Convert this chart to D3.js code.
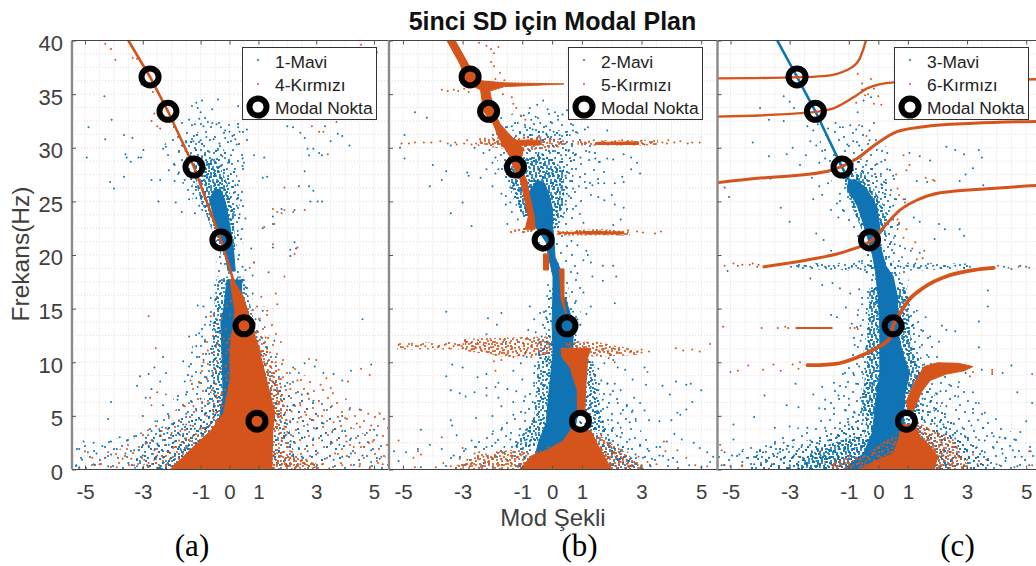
<!DOCTYPE html>
<html><head><meta charset="utf-8">
<script src="https://cdn.jsdelivr.net/npm/d3@7"></script>
<style>html,body{margin:0;padding:0;background:#fff;overflow:hidden}</style>
</head><body><svg id="c" width="1036" height="566"></svg>
<script>
const titleText="5inci SD için Modal Plan", xLabel="Mod Şekli", yLabel="Frekans(Hz)";
const xTicks=[-5,-3,-1,0,1,3,5], yTicks=[0,5,10,15,20,25,30,35,40];
const xMinor=[-5,-4.5,-4,-3.5,-3,-2.5,-2,-1.5,-1,-0.5,0,0.5,1,1.5,2,2.5,3,3.5,4,4.5,5];
const yMinor=[1.25,2.5,3.75,5,6.25,7.5,8.75,10,11.25,12.5,13.75,15,16.25,17.5,18.75,20,21.25,22.5,23.75,25,26.25,27.5,28.75,30,31.25,32.5,33.75,35,36.25,37.5,38.75];
const modalShape=[-2.75,-2.13,-1.23,-0.3,0.5,0.95];
const modalFreq=[36.6,33.4,28.2,21.4,13.4,4.5];
const legendA=["1-Mavi","4-Kırmızı","Modal Nokta"], legendB=["2-Mavi","5-Kırmızı","Modal Nokta"], legendC=["3-Mavi","6-Kırmızı","Modal Nokta"];
const captions=["(a)","(b)","(c)"];

// speckle tiles that give the dense point clouds their grain
const tileA=[[3,5],[11,2],[20,7],[31,3],[7,14],[16,13],[26,16],[34,12],[2,22],[12,24],[21,21],[30,26],[6,31],[17,33],[25,29],[35,35]];
const tileB=[[2,3],[8,1],[15,4],[20,8],[5,8],[11,10],[17,12],[1,13],[7,15],[14,17],[21,15],[3,20],[10,21],[18,20],[22,22],[12,6]];
const tileC=[[1,2],[6,1],[10,3],[3,6],[8,7],[12,8],[1,10],[5,11],[10,12],[6,4]];

// ---- panel (a)
const aBlueCoreU=[[-0.7,25.2],[-0.5,26.2],[-0.3,26],[-0.15,25],[0.02,22.6],[0.13,20.7],[0.2,18.5],[-0.05,18.5],[-0.2,20.7],[-0.45,22.6]];
const aBlueCoreL=[[-0.09,17.67],[0.42,17.67],[0.4,10],[0.4,4],[-0.4,4],[-0.22,6.8],[-0.25,9.9],[-0.3,13.7],[-0.2,15]];
const aBlueSparse=[[-1.9,32.5],[-0.9,33],[0.5,32.5],[0.7,31],[0.6,28.5],[0.5,24],[0.4,19],[0.9,15],[1.3,13],[1.7,10.5],[2.4,8],[3.2,6],[4.2,4],[5.3,2.3],[5.5,0],[-5.45,0],[-5.45,2.2],[-4,2.8],[-3,3.5],[-2.2,5.5],[-1.6,8],[-1.25,12],[-0.9,15],[-0.4,18],[-0.5,21],[-1,24],[-1.7,27],[-2.3,30]];
const aBlueMidU=[[-1.55,31],[-1.1,31.5],[-0.6,30],[-0.25,30],[0.2,28.5],[0.35,26],[0.35,23],[0.2,20],[-0.3,20],[-0.65,23],[-1.2,26],[-1.55,28.5]];
const aBlueMidL=[[-0.5,16],[0.4,16],[1.2,10],[1.9,6],[2.2,2],[2.3,0],[-3.3,0],[-2.3,2],[-1.6,3.5],[-0.9,6],[-0.7,10]];
const aBlueThickU=[[-1.3,28.5],[-0.45,29],[-0.05,26.5],[0.15,24],[0.2,20],[-0.3,20],[-0.7,23],[-1.05,25.5]];
const aBlueThickL=[[-0.45,18],[0.5,18],[1,12],[1.5,6],[1.5,0],[-2.6,0],[-1.6,2],[-1,3.5],[-0.6,5.5],[-0.6,13]];
const aRedSparse=[[0,16],[1.5,15],[2,10],[3,8],[4.5,6],[5.5,5],[5.5,0],[-5.45,0],[-4,1.5],[-3,3.5],[-2,5],[-1.3,8],[-0.8,12],[-0.3,15]];
const aRedMid=[[0.5,15],[1.1,13],[1.7,9],[2,6],[2,3],[2.4,1.2],[3.3,0],[-3.3,0],[-2.3,1.5],[-1.5,3],[-0.7,5],[-0.2,8],[-0.1,12]];
const aRedThick=[[1.4,1.7],[2.3,1.3],[3,0.6],[2.9,0],[1.4,0]];
const aRedThickEdge=[[1.0,12],[1.4,10],[1.9,6.5],[1.7,3.5],[1.2,5]];
const aBlueOverL=[[-3,3],[-2,4.5],[-1,5.5],[-0.5,6],[-0.6,4],[-1.3,2.2],[-2.1,0.1],[-3.4,0.1]];
const aBlueOverR=[[1.5,8],[2.5,7],[3.5,5],[4,2],[4,0.5],[1.6,1.5]];
const aRedMass=[[0.02,17.67],[0.13,17.67],[0.48,16.1],[0.65,14.6],[0.82,13],[1,11.45],[1.28,8.35],[1.57,5.25],[1.5,3.7],[1.46,0],[-2.06,0],[-1.25,2.1],[-0.62,3.7],[-0.21,5.25],[0.02,8.35],[0.02,11.45],[0.19,14.6]];
const aRedLine=[[-3.5,40],[-2.75,36.6],[-2.13,33.4],[-1.23,28.2],[-0.3,21.4],[0.15,17.5]];
const aBlueDots=[[-4.88,31.9],[-4.94,29.1],[-4.33,34.8],[-4.08,32.6],[-4.3,30.8],[-3.65,31.2],[-3.36,30.9],[-3.6,29.4],[-3.56,29.1],[-3.42,28.7],[-3.15,29.1],[-3.06,29.1],[-3.65,27.3],[-4.13,26.8],[-4,26.2],[-2.98,29.8],[-2.46,25],[-1.86,24.9],[-1.65,24],[-0.95,34.4],[-0.4,34.5],[-1.15,34.2],[-1.1,33.7],[-1,33.3],[-0.6,33.6],[0.3,33.9],[-1.3,33.9],[-1.4,32.6],[-1.2,32.2],[-1.05,32.7],[-0.9,32],[-0.75,32.4],[-0.6,32.3],[-0.45,32.2],[-0.3,31.9],[-0.15,31.6],[0,31.5],[0.3,31.9],[0.35,31.5],[0.6,31.7],[0.1,31.1],[0.2,30.8],[0.25,30.3],[0.05,30.6],[-0.15,30.9],[-0.35,30.4],[-0.55,30.8],[-0.8,31],[-1,30.7],[-1.25,30.6],[-1.5,30.5],[-1.65,30.2],[-2.2,30.1],[-2.3,29.9],[-1.75,29.6],[-1.35,29.3],[-0.95,29.2],[-0.7,29.6],[-0.4,29.8],[-0.25,29.2],[0.05,29.3],[0.45,29],[0.5,28.6],[0.45,28.3],[-0.05,28.6],[-0.3,28.3],[-0.6,28.9],[-1.5,28.3],[-1.9,28.4],[-2.1,27.9],[-1.75,27.7],[-1.45,27.4],[-1.9,26.9],[-2.4,27],[-2.7,27],[-1.55,27],[-1.3,26.4],[-1.25,25.7],[-1.15,25.3],[-1.4,25.2],[-1.05,24.6],[-0.95,24.2],[-1.2,23.9],[-0.7,23.8],[0.2,26.5],[0.15,25.8],[0.3,25.6],[0.4,25.1],[0.25,24.6],[0.15,24],[0.35,23.8],[0.1,23.4],[0.55,23.4],[1.3,27.3],[1.15,27.2],[0.85,29.3],[1.2,29.1],[1.95,34.4],[2,32],[2.2,31.9],[2.45,31.4],[2.75,29.3],[2.6,30.9],[2.7,29.9],[2.9,29.9],[3.1,29.5],[3.3,32],[3.5,30.6],[3.75,31.3],[3.9,31.1],[4.15,30.2],[3.2,29.3],[2.6,27.8],[2.4,26.4],[2.75,26.4],[2.9,26],[2.8,25],[3.05,25],[3.2,25],[2.25,24.2],[1.8,24.3],[1.5,23.6],[1.5,22.9],[1.15,22.5],[2.25,21.2],[2.1,20.5],[2.3,20.6],[1.5,20.7],[0.75,20.6],[0.4,21.5],[2.1,19.9],[0.85,19.3],[1.35,18.4],[0.8,18.1],[0.55,18.6],[0.45,18.9],[0.3,19.6],[-0.1,19.6],[-0.3,19.2],[0.55,17],[0.8,16.4],[-0.65,16],[-1.1,15.3],[-0.9,15.2],[1.15,14.8],[0.9,14],[1.05,13.9],[0.85,13.6],[-0.65,13.8],[-0.85,13.5],[-0.5,13],[-1.05,12.7],[-0.95,12.4],[-1.4,12.4],[-1.15,11.5],[-0.85,11.9],[-1.3,10.9],[-1.05,10.5],[-0.9,10.2],[-0.7,10.8],[-0.6,11.5],[-1.4,9.6],[-1.6,10.1],[-2.3,10.5],[-2.6,9.5],[-2.8,8.9],[-3.1,8.7],[-3.2,7.8],[-2.7,7.5],[-2.4,8.2],[-2.2,9],[-1.55,8.2],[-1.3,8.7],[-1,9],[-0.8,8.6],[-0.6,9.2],[-0.5,8],[-0.75,7.6],[-1.1,7.7],[-1.5,7],[-1.8,6.5],[-1.3,6.3],[-1,6.6],[-0.7,6.2],[-0.55,5.4],[-0.85,5.1],[-1.15,5.5],[-1.5,5.2],[-2.1,5],[-2.5,4.5],[-3,5],[-4.2,4.7],[-4.1,6.3],[-2.9,6.7],[-2.3,6],[-1.95,4.2],[-1.6,4.2],[-1.35,4.1],[-1.2,3.8],[-1,3.9],[-0.9,3.3],[-1.6,3.3],[-1.85,3.2],[-2.15,3.4],[-2.4,3.2],[-2.7,3.6],[-3.3,3.1],[-3.55,2.7],[-3.8,3],[-4.1,2.6],[-4.4,2.2],[-4.7,2.5],[-5.05,2.6],[-5.2,1.9],[-4.9,1.6],[-4.6,1.5],[-4.3,1.1],[-4.1,1.4],[-3.9,1.9],[-3.6,1.5],[-3.3,1.8],[-3,1.3],[-2.8,2.2],[-2.5,2.4],[-2.3,1.7],[-2.1,2.3],[-1.9,2.6],[-1.7,1.9],[-1.5,2.2],[-2.6,0.9],[-2.85,0.4],[-3.2,0.3],[-3.1,0.8],[-4.2,0.3],[-5.2,0.2],[-5.3,0.4],[-5.1,0.9],[-4.7,0.5],[-3.5,0.6],[-2.4,0.3],[-2.2,0.8],[1.6,10.5],[1.3,9.9],[1.55,9],[1.2,10.8],[1.3,11.4],[1.55,12],[1.05,12.1],[1.1,11],[1.4,8.7],[1.75,8],[1.65,7.4],[2,8.1],[2.2,9.5],[2.4,9],[2.6,9.9],[2.95,9.6],[3.25,9],[3.6,8.9],[3.9,8.3],[4.2,9.2],[4.9,9.8],[4.6,14],[2.5,7],[2.2,6],[2.9,6.4],[3.2,6.1],[3.5,5.8],[3.9,5],[4.15,5.6],[4.5,5.6],[5.1,3.2],[5,3.7],[4.75,3.4],[2,5.9],[1.9,5.1],[1.75,4.6],[2.1,4.4],[2.4,4.8],[2.7,4.2],[3,3.8],[3.25,4.3],[3.55,3.5],[3.9,3.6],[4.2,2.9],[4.5,2.5],[4.9,1.8],[4.6,1.3],[4.2,1.5],[3.8,2.3],[3.5,2.4],[3.2,2.7],[2.9,2.9],[2.6,3],[2.4,3.4],[2.2,3.1],[1.9,3.4],[1.8,2.7],[2.1,2.3],[2.4,2],[2.7,1.7],[3,1.4],[3.3,1],[3.6,0.9],[2.5,1.2],[2.2,1.4],[1.7,1.6],[3.9,1.2],[4.9,0.7],[5.2,1]];
const aRedDots=[[-4.3,39.7],[-4.1,39.2],[-3.95,38.2],[-3.35,38.4],[-3.2,38.3],[-3.05,35.9],[-2.65,35.2],[-2.6,33.2],[-2.7,32.5],[-2.5,32],[-2.4,31.8],[4.55,39.6],[5.1,38.9],[2.85,32],[3.1,31.5],[3.25,31.5],[3.7,32.4],[3.4,29.4],[1.9,26.3],[1.5,24.3],[1.65,24],[1.8,23.9],[1.9,24.2],[2.2,24],[2.6,24.2],[1.55,22.9],[1.2,22.6],[1.5,21],[2.35,20.7],[2.25,20.1],[0.85,19.3],[0.7,18.8],[1.9,18],[1.65,15.4],[1.6,16.4],[1.1,16.1],[1.3,14.8],[0.95,15.2],[-0.3,14.5],[-0.55,14.4],[-0.65,14.3],[-2.8,14.3],[-2.55,11.3],[-0.2,12.2],[-0.4,11.7],[-0.75,11.1],[-0.9,10],[-0.5,9.4],[-1.35,8.3],[-1.05,8.1],[-0.65,7.2],[-0.45,6.9],[-0.95,6.3],[-1.25,5.9],[-1.55,5.9],[-2.2,7],[-2.5,7.2],[-2.75,6.7],[-2.7,6],[-2.1,4.8],[-1.75,4.6],[-1.5,4.2],[-1.4,3.5],[-1.7,3.6],[-2,3.4],[-2.35,3.6],[-2.7,2.7],[-2.9,2.4],[-3.15,1.8],[-3.55,1.9],[-3.7,1],[-3.4,1],[-3.3,0.4],[-2.95,0.9],[-2.6,1.8],[-2.5,1.3],[-2.3,1.1],[-2.15,1.7],[-1.95,2],[-1.75,2.7],[-1.55,2.9],[-2.8,0.6],[-4.5,0.5],[-4.2,1.6],[-4.75,1.1],[-5,1.7],[-5.2,0.1],[-3.9,0.2],[1.7,9.3],[1.85,8.6],[2.1,7.5],[1.6,10],[1.4,10.9],[1.25,12.3],[1.85,10.2],[2.35,8.3],[2.75,10.3],[3,10.2],[3.35,8.5],[4.1,8.2],[4.55,9.4],[4.85,8.8],[3.5,7.6],[3.15,7.9],[2.7,7.1],[2.45,6],[2.15,5.4],[1.9,4],[1.75,3.4],[2,3.5],[2.35,4.4],[2.65,5.1],[2.9,4.6],[3.2,5],[3.6,4.4],[4,4.8],[4.4,4.3],[4.8,5.2],[4.9,4.1],[5.2,5.2],[1.7,2.4],[1.6,1.8],[1.75,1.2],[1.9,0.7],[2.1,1.1],[2,0.4],[2.3,0.8],[2.45,0.5],[2.65,0.9],[2.85,0.6],[2.95,0.2],[3.2,0.5],[3.45,0.1],[2.1,1.7],[1.65,0.6],[3.65,1.5],[3.9,0.4],[4.5,0.3],[4.85,0.1],[5.1,0.8],[5.25,1.2],[5.3,0.5],[4.3,2.1],[4.05,2.6],[4.65,2.1],[4.95,2.6]];

// ---- panel (b)
const bBlueSparse=[[-2.1,32.5],[-1,33.5],[0.7,33],[1,31],[1.6,29.5],[2,28],[1.2,26],[1,24],[0.6,22],[0.9,19],[1,16],[0.9,13],[1.3,10],[1.9,8],[2.6,6],[3,3.5],[3.8,2],[4.5,0],[-4,0],[-3,2],[-2,3.6],[-1.2,5],[-0.8,8],[-0.5,12],[-0.35,15],[-0.1,18],[-0.4,21],[-1.1,23.5],[-1.6,27],[-2,30]];
const bBlueMidU=[[-1.7,31.5],[-0.6,32],[0.6,31.5],[0.8,29],[0.7,27],[0.6,25],[0.3,22.5],[-0.6,22.5],[-1.2,24.5],[-1.6,27.5]];
const bBlueMidL=[[-0.15,17],[0.55,17],[0.7,13],[0.95,12],[1.5,9],[1.7,5],[2.7,1],[3,0],[-1.3,0],[-1,3],[-0.5,5],[-0.35,9],[-0.2,12],[-0.25,15]];
const bBlueThickU=[[-1.5,28.5],[-0.3,29.5],[0.4,28],[0.4,25],[0.15,22.5],[-0.6,22.5],[-1.1,24.2],[-1.4,26.5]];
const bBlueThickR=[[1.1,2.7],[2,2.4],[2.9,0.6],[2.9,0],[1.1,0]];
const bBlueThickLL=[[-0.45,12],[0.05,12],[0.05,4],[-0.7,2],[-1.3,2],[-0.6,5]];
const bBlueThickLR=[[0.95,10.5],[1.4,10],[1.55,6],[1.8,3.6],[1.1,3.6]];
const bBlueMass=[[-0.75,26],[-0.5,27],[-0.25,26.7],[-0.1,25.6],[0.02,24.2],[0,22.8],[0.05,22],[0.1,19.8],[0.3,18.5],[0.37,16],[0.45,16],[0.7,13.6],[0.7,11],[0.98,7.4],[0.8,4.3],[0.4,2.6],[0.1,0.9],[-0.6,0.9],[-0.45,2.6],[-0.2,4.3],[-0.1,7.4],[0.03,10.9],[0,13.6],[0.03,16.7],[0.03,18],[-0.13,20],[-0.2,21.2],[-0.5,22.4],[-0.9,24.2]];
const bRedRidge=[[-3.25,40],[-2.81,37.8],[-2.55,36.5],[-2.36,36.2],[-2.1,35.4],[-1.95,33.4],[-1.74,32.2],[-1.35,31],[-0.96,29.9],[-1.02,29.1],[-1.07,28.2],[-0.85,27],[-0.74,25.4],[-0.6,23.6],[-0.57,22.4],[-0.9,22.4],[-0.8,23.6],[-0.94,25.4],[-1.07,27],[-1.3,28.2],[-1.4,29.1],[-1.58,29.9],[-1.8,31],[-1.97,32.2],[-2.3,33.4],[-2.4,35.4],[-2.84,36],[-3.09,37.8],[-3.53,40]];
const bRedLower=[[0.3,11.3],[1.3,11.3],[1.2,10.5],[1.12,7.4],[1.1,5.5],[0.85,5.5],[0.84,7.4],[0.6,9.5],[0.33,10.5]];
const bRedBase=[[0.68,3.9],[1.3,3.6],[1.55,2.2],[2.0,0],[-1.1,0],[-0.7,1.2],[-0.1,1.9],[0.35,2.6]];
const bRedBaseMid=[[0.2,2.5],[1.4,3.6],[2.4,1.7],[3.2,0],[-3.5,0],[-2.4,1.4],[-1.2,1.9],[-0.7,1.5]];
const bRedSpike36=[[-2.4,36.25],[-1.6,36.05],[0.4,35.95],[-1.6,35.7],[-2.2,35.2]];
const bRedBand30=[[-2.5,30.9],[-0.5,31.1],[0.4,30.7],[0.4,30.1],[-1,29.7],[-2.5,30.2]];
const bRedCore30=[[-1.7,30.7],[-0.4,30.7],[-0.4,30.25],[-1.7,30.2]];
const bRedRight30=[[0.85,30.65],[3.55,30.75],[3.55,30.2],[0.85,30.2]];
const bRedCoreR30=[[1.5,30.5],[2.9,30.55],[2.9,30.3],[1.5,30.3]];
const bRedRight22=[[0.15,22.2],[1.6,22.45],[2.6,22.2],[2.6,21.8],[1.6,21.85],[0.15,21.8]];
const bRedCoreR22=[[0.2,22.05],[1.2,22.2],[2.4,22.15],[2.4,21.95],[1.2,21.95]];
const bRedLeft22=[[-1.45,22.3],[-0.55,22.7],[-0.55,22.1],[-1.45,22]];
const bRedStub=[[-0.29,20.1],[-0.12,20.1],[-0.12,18.6],[-0.29,18.6]];
const bRedStub2=[[0.25,18.7],[0.4,18.7],[0.4,15.8],[0.47,14.5],[0.3,15.8]];
const bRedBandL11=[[-3.0,12.2],[-0.05,12.4],[-0.05,10.7],[-1.5,10.5],[-3,11.1]];
const bRedBandLL11=[[-5.2,11.8],[-3,11.9],[-3,11.2],[-5.2,11.2]];
const bRedBandR11=[[0.4,11.9],[1.5,11.9],[2.9,11.1],[2.9,10.7],[1.5,10.5],[0.7,10.8]];
const bBlueDots=[[-4.6,33.3],[-4.2,32.8],[-4.95,31.2],[-5.1,30],[-4.95,29],[-4,28.4],[-3.55,27.8],[-3.4,30.2],[-3.7,27],[-2.85,27.7],[-2.8,27.4],[-4.1,26.4],[-3,24.9],[-3.4,23.9],[-2.4,27.2],[-2.2,28],[-2.3,29.5],[-2.6,30],[-2.1,29.8],[-1.9,29.1],[-2,28.6],[-1.8,28],[-1.6,28.3],[-1.9,27.6],[-2,26.4],[-1.55,25.5],[-1.55,24.7],[-1.7,25.7],[-1.4,26.3],[-1.4,24.9],[-1.5,22.9],[-1.35,24],[-1.15,23.3],[-1.1,24.7],[-2.7,22.7],[-1.9,32.7],[-1.7,32],[-1.85,31.3],[-2.05,32.4],[-1.55,31.9],[-1.35,32],[-1.15,32.3],[-0.95,33],[-0.75,33.7],[-0.5,34],[-0.3,34.4],[-0.15,33.6],[-0.7,32.6],[-0.55,32.9],[-0.4,32.3],[-0.2,32],[-0.05,32.4],[0.1,33.3],[0.2,32.6],[0.35,33.1],[0.5,33.5],[0.65,32.7],[0.7,32.1],[-0.9,31.9],[-0.65,31.7],[-0.45,31.5],[-0.2,31.3],[0.05,31.5],[0.25,31.2],[0.5,31.5],[0.7,31.6],[0.85,31.4],[1.1,31.7],[1.2,31.9],[1.85,31.6],[1.35,33.5],[-0.4,30.9],[-0.05,30.8],[-0.45,29.5],[0.1,29.7],[0.3,29.3],[0.55,29.7],[0.8,29.4],[0.95,29.1],[1.25,29.6],[1.45,29],[1.6,28.7],[1.85,29],[2.05,28.9],[2.4,29.4],[2.65,29.1],[2.85,28.6],[2.95,27.6],[2.65,28],[2.35,27.3],[2.4,26.8],[2.1,26.7],[1.75,26.7],[1.55,26.7],[1.35,26.5],[1.1,26.8],[0.9,26.4],[0.7,26.2],[0.3,27.8],[0.45,27.4],[0.15,26.8],[0.3,26.3],[0.5,25.7],[0.25,25.2],[0.45,24.7],[0.3,24.3],[0.15,24],[0.05,23.4],[0.7,24.3],[1.3,25.6],[1.55,25.4],[1.75,25.1],[2,25.6],[2.1,24.7],[2.4,24.4],[2.3,23.3],[2.05,22.8],[1.05,23],[0.65,21.3],[0.85,20.9],[1.15,20.4],[1.2,20],[1.05,19.5],[0.85,18.3],[1.35,18],[1.3,19.3],[1.7,19],[1.7,17.6],[2.05,19],[2.15,18],[2.1,15.5],[1.05,16.5],[1.3,15.2],[0.8,15.7],[1.15,14.5],[0.95,13.5],[0.85,14],[0.7,14.7],[-3.55,14.7],[-2.15,14.1],[-1.85,13.5],[-1.7,14.6],[-2.2,12.6],[-1.55,11.7],[-0.75,15.2],[-0.4,14.6],[-0.2,14.2],[-0.6,14],[-0.8,13],[-0.55,12.8],[-0.25,13.2],[-0.35,12.4],[-0.15,11.9],[-0.85,10.5],[-0.95,10.6],[-1.05,9.9],[-0.4,10.4],[-0.2,10.1],[-0.1,9.9],[-1.3,9.2],[-1,8.4],[-0.6,9],[-0.3,9.1],[-0.15,8.8],[-0.35,8.1],[-0.6,7.8],[-1.8,8.1],[-2.2,8.9],[-3,9.5],[-3.35,9.8],[-3.55,8.7],[-2.5,8.6],[-2.2,7.6],[-2.6,7.2],[-2.2,6.9],[-2.9,6.8],[-3.4,7.4],[-3.1,7.1],[-1.9,7.7],[-1.5,7.5],[-1.2,7.3],[-1.8,6.7],[-1.3,6.3],[-0.9,6.8],[-0.65,6.3],[-0.35,6.6],[-0.55,5.8],[-0.9,5.3],[-1.3,5.1],[-1.7,5.9],[-2,5],[-2.55,4.8],[-3.4,4.6],[-3.35,4.1],[-4.4,3.7],[-3.2,3.2],[-2.7,2.7],[-2,3.3],[-1.7,3.7],[-1.4,2.8],[-1.1,3.2],[-0.8,3.6],[-0.65,4.5],[-0.55,3.4],[-0.85,2.8],[-1.2,2.2],[-1.6,2.1],[-1.9,2.5],[-2.2,2.1],[-2.55,2.1],[-2.9,1.9],[-3.3,1.3],[-3.7,1.9],[-4.1,2.3],[-4.5,1.9],[-4.9,1.6],[-5.3,1.7],[-5.15,0.8],[-4.4,0.2],[-2.3,0.6],[-1.9,1.3],[-1.6,1.6],[-1.3,1.6],[1.75,9.9],[1.55,9.4],[1.4,8.9],[1.2,10.2],[1.35,10],[1.65,8.3],[1.85,8],[1.55,7.4],[1.3,7.7],[1.15,8.6],[2.05,10.2],[2.2,9.5],[2.45,9.3],[2.7,8.4],[2.1,8],[2.3,7.4],[1.95,7],[1.7,6.5],[1.4,6.7],[1.25,5.7],[1.55,5.4],[1.85,5.8],[2.2,6.2],[2.5,5.9],[2.75,6.7],[2.95,6.2],[3.1,5.5],[2.7,5.5],[2.3,5.2],[2,4.6],[1.7,4.5],[1.4,4.8],[1.45,3.9],[1.7,3.6],[2,3.7],[2.3,3.9],[2.6,4.4],[2.8,4.7],[3.25,4.6],[3.6,4.5],[4,4.6],[4.2,5.3],[4.3,5.1],[4.5,5.6],[4.5,7.9],[4.7,6.3],[5,7.4],[3.15,7.9],[3.7,7.8],[3.95,7],[3.1,9.5],[4.15,8.2],[4.65,8],[2.3,3],[2.6,2.8],[2.95,2.3],[3.2,1.9],[3.5,2.1],[3.85,2.6],[4.1,3.3],[4.35,2.8],[4.75,2.5],[4.95,2],[5.2,1.6],[1.9,2.8],[1.7,2.2],[2,2],[2.3,1.7],[2.55,1.9],[2.8,1.4],[3.05,1.1],[3.35,1],[3.6,1.3],[3.9,0.9],[4.2,0.7],[4.6,0.4],[2.2,1],[2.5,0.9],[2.75,0.7],[3,0.4],[3.3,0.3],[5.3,0.7],[5.4,1.2],[5,0.2]];
const bRedDots=[[-2.45,39.8],[-2.2,39.5],[-2.05,39.2],[-1.95,38.8],[-1.8,39.4],[-2.05,38],[-1.95,37.6],[-1.75,37],[-1.9,36.4],[-1.6,36.3],[-3.7,35.4],[-3.5,35.3],[-3.3,35.4],[-3.15,35.3],[-2.95,35.5],[-2.8,35.2],[-1.65,35],[-1.35,34.7],[-1.3,34.1],[-1.2,33.7],[-1.05,33],[-0.9,32.6],[-5.05,30.4],[-4.8,30.4],[-4.6,30.5],[-4.3,30.5],[-4.05,30.5],[-3.75,30.6],[-3.5,30.4],[-3.25,30.5],[-3.2,30.3],[-2.95,30.4],[-2.85,30.7],[-2.7,30.3],[-2.55,30.4],[-2.4,30.6],[-2.1,30.4],[-1.95,30.7],[-1.8,30.5],[0.45,30.4],[0.7,30.6],[1,30.4],[1.1,30.5],[3.7,30.5],[3.85,30.4],[3.9,30.7],[4.1,30.5],[4.3,30.6],[4.55,30.4],[4.7,30.5],[4.95,30.5],[1.4,30.7],[2.35,30.7],[3.1,30.3],[0.2,22.2],[2.55,22.3],[2.85,22.2],[3.05,22.1],[3.45,22],[3.65,22.2],[-5.15,11.6],[-5,11.4],[-4.85,11.5],[-4.7,11.6],[-4.5,11.5],[-4.25,11.5],[-4,11.4],[-3.8,11.5],[-3.6,11.6],[-3.45,11.3],[-3.3,11.5],[-3.1,11.6],[-2.9,11.7],[-2.7,11.2],[-2.5,11.8],[-2.3,11.6],[-2.2,11],[-2.05,11.4],[-1.9,10.7],[-1.8,11.5],[-1.65,11.1],[-1.5,10.8],[-1.3,10.5],[-1.1,10.7],[-0.9,10.8],[-0.7,10.5],[-2.4,11.3],[-2.65,11.5],[-3,11.3],[1.5,11.2],[1.7,11.1],[2.05,11.3],[2.25,11.2],[2.65,11],[3,10.9],[3,11.2],[4.15,11.3],[4.4,11.1],[4.7,11.2],[4.95,11],[5.3,11.7],[3.2,9.1],[3.25,11],[1.9,10.4],[2.1,10],[-1.9,9.2],[1,8.9],[-1.95,10.1],[-1.7,10.2],[-5.15,2.7],[-4.5,1.7],[-4.65,1.1],[-4.4,1.4],[-3.7,3],[-3,2],[-3.1,1],[-2.85,0.9],[-2.9,0.4],[-2.7,0.6],[-2.6,1.5],[-2.45,1.6],[-2.3,1.2],[-2.15,0.7],[-2,1.1],[-1.85,1.6],[-1.7,1],[-1.5,0.8],[-1.35,1.3],[-3.65,0.6],[-3.4,0.3],[-3.9,0.2],[-4.6,0.2],[1.65,3.2],[1.85,2.5],[2.1,1.5],[2.3,0.7],[2.6,0.3],[2.9,1.2],[3.2,0.7],[3.5,0.5],[4.2,1.8],[4.5,1.1],[4.8,0.4],[5.2,0.3],[1.8,1.4],[1.7,0.5],[3.8,1.7],[3.75,2.6]];

// ---- panel (c)
const cBlueLine=[[-3.42,40],[-2.75,36.6],[-2.13,33.4],[-1.23,28.2],[-1,27]];
const cBlueSparse=[[-2.1,32],[-0.5,32],[0.3,30],[0.7,27.5],[0.6,25],[0.8,22],[0.8,19.5],[1.1,17],[1.4,14],[2,11],[2.8,8],[3.5,6],[4.5,3.5],[5.5,1.5],[5.5,0],[-5.45,0],[-5.45,1.5],[-4,2.2],[-3,3.5],[-2,5],[-1.5,8],[-1,11],[-0.7,15],[-0.4,18],[-0.8,21],[-1.2,24],[-1.6,27],[-1.9,29.5]];
const cBlueMid=[[-1.45,29],[-0.5,29],[0.25,27],[0.45,24],[0.55,22],[0.5,19.5],[1,17],[1.3,12],[1.7,8],[2.3,5],[3.2,2.5],[4.2,0],[-4,0],[-3,1.3],[-2,2.5],[-1.2,4],[-0.6,6],[-0.5,11],[-0.3,15],[-0.2,18],[-0.5,22],[-1,25.5]];
const cBlueThickU=[[-1.25,27.7],[-0.5,27.7],[0.2,24.5],[0.25,22],[-0.5,22],[-0.9,24.5]];
const cBlueThickM=[[-0.3,17],[0.95,17],[1.1,12],[1.5,8],[1.3,5],[-0.6,5],[-0.4,10]];
const cBlueThickL=[[-0.2,8],[1.3,8],[1.3,5],[1.6,3],[2.2,1.5],[2.6,0],[-3,0],[-2,1],[-1.2,1.7],[-0.5,3]];
const cBlueBottomL=[[-4.2,1.9],[-3,2.3],[-2,3],[-1,4],[-0.5,4],[-0.5,0],[-4.4,0]];
const cBlueBottomLL=[[-2.2,1.8],[-1,3],[-0.4,3],[-0.4,0],[-2.8,0]];
const cBlueBottomR=[[1.6,4],[2.6,3],[3.5,1],[3.5,0],[1.6,0]];
const cBlueStrip=[[-2.9,19.2],[-0.2,19.3],[0.7,19.3],[3.1,19.2],[3.1,18.7],[0.7,18.5],[-0.2,18.5],[-2.9,18.7]];
const cBlueMass=[[-1.0,27],[-0.75,27],[-0.4,26.2],[-0.05,24.5],[0.05,22.6],[0.05,21],[0.25,19],[0.5,18],[0.65,16],[0.65,13],[0.8,11],[1.05,9],[0.9,7],[0.85,5],[0.9,3],[1.3,1],[1.6,0],[-1.2,0],[-0.5,1.5],[-0.2,3.5],[-0.1,6],[0.05,9],[0.05,13],[0,16],[-0.1,18.5],[-0.2,20],[-0.45,22.5],[-0.7,24.5],[-1.05,26.3]];
const cRedCurve1=[[-5.44,36.47],[-2.97,36.56],[-1.85,36.68],[-1.06,37.25],[-0.66,38.18],[-0.5,39.27],[-0.42,40]];
const cRedCurve2=[[-5.44,32.9],[-2.41,33.27],[-1.52,33.68],[-0.72,34.92],[-0.38,35.54],[0.51,36.1],[3,36.3],[5.5,36.4]];
const cRedCurve3=[[-5.4,26.75],[-4.1,27.15],[-2.63,27.46],[-1.56,27.93],[-0.72,29],[-0.05,30.4],[0.63,31.5],[1.53,31.96],[3.22,32.28],[5.5,32.46]];
const cRedCurve4=[[-3.87,18.9],[-2.41,19.53],[-0.95,20.47],[-0.21,21.4],[0.29,22.95],[0.74,24.2],[1.31,25.13],[2.09,25.8],[3.78,26.2],[5.5,26.5]];
const cRedCurve5=[[-2.4,9.74],[-2,9.74],[-1.45,9.84],[-0.77,10.4],[-0.09,11.3],[0.36,12.15],[0.5,13.4],[0.74,14.6],[1.03,15.8],[1.5,16.9],[2.43,18.13],[3.22,18.6],[3.9,18.8]];
const cRedBlob=[[1.0,5.3],[1.2,5.5],[1.45,7.2],[1.75,8.3],[2.3,8.9],[2.9,9.2],[3.2,9.6],[2.7,9.9],[2,9.95],[1.55,9.6],[1.2,8],[0.95,6.4]];
const cRedSeg13=[[-2.8,13.2],[-1.55,13.2]];
const cRedBase=[[0.78,4.2],[1.25,4.1],[1.4,3.1],[1.75,2.2],[2.0,1.2],[1.9,0],[-0.65,0],[-0.1,0.8],[0.5,1.5],[0.7,3]];
const cRedBaseMid=[[-1.5,0.9],[-0.5,1.3],[1.2,4.5],[2.5,3],[3,0.5],[3,0],[-1.7,0]];
const cBlueDots=[[-3.2,34.8],[-3,34.3],[-2.85,33.7],[-4,33.7],[-3.7,32.6],[-3.2,32.5],[-4.25,30.5],[-3.7,29.2],[-3.1,29.4],[-2.9,30],[-2.4,32],[-2.2,31.6],[-2.05,32.2],[-1.8,33],[-1.7,31.8],[-1.45,32.3],[-1.2,31.9],[-0.95,32.1],[-0.75,31.7],[-0.55,32],[-0.3,31.6],[-0.15,32.3],[-0.7,33.3],[-0.5,34.4],[-0.25,34.7],[-2.3,30.6],[-2.1,30.2],[-1.9,29.7],[-2.45,29.3],[-2.65,28.4],[-2,28.6],[-1.8,29],[-3.65,27.1],[-2.25,27.2],[-2,26.4],[-1.9,25.6],[-1.7,26.7],[-2.2,25.2],[-1.6,24.2],[-1.35,23.5],[-1.2,24.2],[-3,23.1],[-3.3,24.4],[-2.1,22],[-1.85,21.4],[-1.6,20.4],[-1.3,25.7],[-1.4,24.8],[-1.05,30.3],[-0.85,30.6],[-0.65,30.2],[-0.3,30.7],[-0.05,29.8],[0.3,29.5],[0.1,28.7],[-0.1,28.4],[0.3,28],[0.5,27.4],[0.25,27],[0.1,26.6],[0.15,25.8],[0.4,25.6],[0.6,25.2],[0.9,25.2],[0.5,24.6],[0.3,23.8],[0.5,23.3],[0.65,22.8],[0.3,22.9],[1.05,29.5],[1.4,29.2],[1.75,28.8],[2.3,30.1],[2.6,29.8],[2.9,29.4],[3.4,29.8],[3.5,29.1],[3.2,28.1],[2.95,27.5],[2.75,26.9],[3.55,26.5],[1.65,26.8],[1.3,26.9],[1.2,23.5],[1.4,23.1],[2.05,22.9],[2.25,22.4],[2.75,22.4],[2.9,21.8],[1.9,21.5],[1.4,20.2],[1.1,20.4],[0.9,20.6],[0.55,21],[0.8,19.8],[1.25,19.2],[-5.2,26.3],[-5.05,25.4],[-2.95,18.9],[-2.7,18.9],[-2.5,19],[-2.3,18.9],[-2.05,19],[-1.8,18.9],[-1.6,18.7],[-1.35,19],[-1.1,18.7],[-0.9,18.9],[-0.75,19],[-0.6,18.7],[-0.45,18.9],[-0.3,19],[-0.15,18.8],[-0.65,19.4],[-0.4,18.4],[0.75,18.9],[0.95,19],[1.2,18.9],[1.4,18.8],[1.6,19],[1.85,19],[2.1,18.8],[2.35,18.9],[2.6,19],[2.9,18.8],[3.1,18.9],[4.25,18.9],[4.5,18.7],[4.8,19],[5,18.9],[-5.1,18.5],[-2.3,17.8],[-1.9,17.2],[-1.55,17.4],[-1.3,16.9],[-0.95,16.4],[-0.65,16.8],[-0.35,16],[-0.2,16.6],[-1.1,15.1],[-0.55,15.4],[-0.1,15.4],[-1.6,14.4],[-1.4,14.2],[-0.7,14.4],[-0.4,14.6],[0.8,15.6],[1,16],[1.3,14.8],[1.6,14.2],[2.15,13.4],[2.3,13],[3.4,13.8],[3.7,16.7],[3.7,15.2],[-0.9,13.6],[-0.6,13.4],[-0.3,13.1],[-0.15,12.7],[0.85,12.6],[1.2,13.2],[1.45,13],[1.75,12.4],[2.05,11.9],[2.6,12.9],[3.4,11.4],[-0.6,12],[-0.4,11.4],[-0.8,11.6],[-0.2,10.8],[1.05,11.8],[1.4,11.4],[-0.65,9.6],[-1.2,8.9],[-0.85,9],[-0.45,9.4],[-0.2,9],[-1.5,8.1],[-1.1,7.7],[-0.75,8],[-0.4,7.6],[-0.2,7.9],[-1.35,6.9],[-1,6.6],[-0.6,6.7],[-0.3,6.4],[-2.8,8],[-2.2,7],[-1.9,7.7],[-1.8,6.5],[-3.85,6.9],[-3.1,6],[-2.7,5.8],[-2,5.7],[-1.5,5.7],[-1.1,5.5],[-0.8,5.3],[-0.5,5.5],[-0.25,5.1],[-4.9,4.2],[-4.2,4.9],[-3.5,3.9],[-3,4],[-2.4,3.9],[-1.8,3.9],[-1.3,3.8],[-1,4.2],[-0.7,3.9],[-0.4,4.2],[-4.9,2.8],[-4.6,1.7],[-4.3,2],[-3.8,2.2],[-3.5,2.4],[-3.2,2.5],[-2.9,2.7],[-2.6,2.1],[-2.3,2.7],[-2,2.4],[-1.7,2.7],[-1.4,3],[-1.1,2.7],[-0.8,3],[-0.5,2.5],[-5.2,1.6],[-4.95,1.3],[-4.7,1.4],[-4.4,1.1],[-4.1,1.3],[-3.9,1.6],[-3.7,1.1],[-3.4,1.5],[-3.1,1.9],[-2.85,1.3],[-2.55,1.1],[-2.25,1.7],[-1.95,1.3],[-1.65,1.7],[-1.35,1.9],[-1,1.7],[-0.8,2],[-3.6,0.5],[-3.3,0.9],[-3,0.4],[-2.7,0.7],[-2.4,0.4],[-2.1,0.8],[-1.8,0.5],[-1.5,1],[-1.3,0.6],[-5.3,0.4],[-5,0.3],[-4.6,0.7],[-4.2,0.5],[-3.8,0.7],[1.5,6.6],[1.75,6.3],[1.5,5.5],[1.9,5.5],[2.1,7.3],[1.95,7.1],[2.4,7.9],[2.7,7.7],[3.2,7.2],[3.3,6.2],[2.3,5.9],[2.7,6.8],[3.6,5.3],[3.2,5.3],[1.7,10.5],[1.55,9.8],[2.45,9.4],[2.95,9],[3.5,9.3],[1.55,4.6],[1.9,4.3],[2.2,4.2],[2.55,4.3],[2.85,3.9],[3.15,4.1],[3.55,3.9],[4.1,3],[4.8,3.5],[5,4.5],[4.7,7.2],[5.2,6.2],[4.5,9.7],[4.2,9],[1.6,3.3],[2,3.4],[2.3,3.5],[2.6,2.9],[2.95,3],[3.3,3],[3.6,2.7],[3.9,3.1],[4.3,2.9],[4.6,2.8],[2.1,2.3],[2.4,1.9],[2.7,2.2],[3,1.7],[3.3,2],[3.6,1.6],[3.9,2],[4.2,1.5],[4.55,1.8],[4.85,1.2],[5.15,1.7],[2.2,1.3],[2.5,0.8],[2.8,1],[3.1,0.6],[3.4,0.8],[3.7,0.4],[4,0.5],[4.3,0.8],[4.7,0.3],[5.1,0.4]];
const cRedDots=[[-0.55,36],[-0.25,36.4],[-0.55,35.4],[-0.45,34.9],[-0.7,36.9],[-0.75,34.2],[-0.35,35],[-0.15,35.5],[0,34.8],[0.1,34],[-0.15,34.1],[-0.65,32.1],[-0.4,31.1],[0.85,29.3],[0.95,27.9],[1.05,28.4],[0.6,27.5],[0.65,26.2],[0.7,25.6],[0.85,25.2],[0.9,24.9],[0.65,23.3],[0.7,23],[0.65,22.4],[0.85,21.6],[1.25,21.2],[1.55,20.4],[1.5,19.7],[1.3,19.6],[1.15,20.6],[0.95,22.4],[1.6,27.2],[1.85,27],[1.9,26.9],[-4.9,19.2],[-4.75,19],[-4.6,19.1],[-4.35,19.1],[-4.25,19.2],[-4.05,19.1],[-4.1,18.9],[-5.2,19],[4.05,19],[4.4,18.8],[4.75,18.9],[5.1,18.8],[-5.25,13.3],[-3.95,13.2],[-3.4,13.2],[-3.15,13.3],[-3.05,13.2],[-0.95,13.2],[-0.8,13.2],[-0.7,13.1],[-5,9.1],[-4.75,9.2],[-4.4,9.7],[-3.9,9.3],[-3.55,9.8],[-3.3,9.2],[-2.9,9.8],[-2.7,9.4],[-2.65,10],[0.2,11],[0.35,10.7],[1,8.4],[3.1,8.7],[3.2,9.1],[3.85,9.1],[3.85,8.9],[3.85,9.3],[5.2,8.9],[-5.35,2.3],[-5.3,1.8],[-5.2,0.4],[-4.6,0.4],[-3.7,0.1],[-2.7,1.2],[-1.95,1.7],[-1.8,0.7],[-1.5,0.4],[-1.1,0.6],[-1,1.2],[1.95,1.9],[2.2,0.9],[2.05,0.3],[2.45,0.4],[2.7,1.3],[3,0.9],[3.2,1.4],[3.35,0.5],[3.65,0.9],[3,0.1],[4.1,0.4],[4.6,0.2],[5.1,1.7],[5.2,0.4]];

const BLUE="#0f73b4", RED="#d5541c", INK="#3f3f3f";
const svg=d3.select("#c"), font="'Liberation Sans',Arial,sans-serif";
const y=d3.scaleLinear().domain([0,40]).range([469.5,40.5]);
const defs=svg.append("defs");
const poly=d3.line();

// speckle patterns: tile sizes in each colour; D reuses tile C at another offset
[["b",BLUE,0,0],["r",RED,11,7]].forEach(([k,col,ox,oy])=>{
  [["A",tileA,37,0,0],["B",tileB,23,0,0],["C",tileC,13,0,0],["D",tileC,13,6,5]].forEach(([n,tile,s,dx,dy])=>{
    const pt=defs.append("pattern").attr("id",k+n).attr("patternUnits","userSpaceOnUse").attr("width",s).attr("height",s).attr("patternTransform",`translate(${ox+dx},${oy+dy})`);
    pt.selectAll("circle").data(tile).join("circle").attr("cx",d=>d[0]).attr("cy",d=>d[1]).attr("r",1.05).attr("fill",col);
  });
});
const levels={1:["A"],2:["A","B"],3:["A","B","C"],4:["A","B","C","D"]};

function panel(id,domain,range,opts){
  const x=d3.scaleLinear().domain(domain).range(range);
  const w=range[1]-range[0];
  defs.append("clipPath").attr("id",id).append("rect").attr("x",range[0]).attr("y",40.5).attr("width",w).attr("height",429);
  const g=svg.append("g");
  const grid=g.append("g").attr("stroke","#dcdcdc").attr("stroke-width",1).attr("stroke-dasharray","1 2");
  grid.selectAll("line.v").data(xMinor).join("line").attr("class","v").attr("x1",d=>x(d)).attr("x2",d=>x(d)).attr("y1",40.5).attr("y2",469.5);
  grid.selectAll("line.h").data(yMinor).join("line").attr("class","h").attr("x1",range[0]).attr("x2",Math.min(range[1],1036)).attr("y1",d=>y(d)).attr("y2",d=>y(d));
  const m=g.append("g").attr("clip-path",`url(#${id})`);
  const p=a=>a.map(d=>[x(d[0]),y(d[1])]);
  const area=(a,c)=>m.append("path").attr("d",poly(p(a))+"Z").attr("fill",c).attr("stroke",c).attr("stroke-width",1).attr("stroke-linejoin","round");
  const halo=(a,k,lv)=>levels[lv].forEach(n=>m.append("path").attr("d",poly(p(a))+"Z").attr("fill",`url(#${k}${n})`));
  const curve=(a,c,sw)=>m.append("path").attr("d",d3.line().curve(d3.curveMonotoneX)(p(a))).attr("fill","none").attr("stroke",c).attr("stroke-width",sw).attr("stroke-linecap","round");
  const straight=(a,c,sw)=>m.append("path").attr("d",poly(p(a))).attr("fill","none").attr("stroke",c).attr("stroke-width",sw);
  const dots=(a,c)=>m.append("g").attr("fill",c).selectAll("circle").data(a).join("circle").attr("cx",d=>x(d[0])).attr("cy",d=>y(d[1])).attr("r",1);
  opts.draw({area,halo,curve,straight,dots});
  // axes
  const ax=g.append("g").attr("transform","translate(0,469.5)").call(d3.axisBottom(x).tickValues(xTicks).tickSize(-4).tickPadding(15).tickFormat(d3.format("d")));
  ax.select(".domain").attr("stroke","#444").attr("d",`M${range[0]},0H${Math.min(range[1],1036)}`);
  const ax2=g.append("g").attr("transform","translate(0,40.5)").call(d3.axisTop(x).tickValues(xTicks).tickSize(-4).tickFormat(""));
  ax2.select(".domain").attr("stroke","#444").attr("d",`M${range[0]},0H${Math.min(range[1],1036)}`);
  const ay=g.append("g").attr("transform",`translate(${range[0]},0)`).call(d3.axisLeft(y).tickValues(yTicks).tickSize(-4).tickPadding(9).tickFormat(opts.yLabels?d3.format("d"):""));
  ay.select(".domain").attr("stroke","#8a8a8a").attr("stroke-width",2.4).attr("d","M0,40.5V469.5");
  g.selectAll(".tick line").attr("stroke","#555");
  ax.selectAll(".tick text").attr("font-size",20.5);
  ay.selectAll(".tick text").attr("font-size",22).attr("dy","0.45em");
  g.selectAll(".tick text").attr("font-family",font).attr("fill",INK);
  g.selectAll(".tick text").each(function(){const t=d3.select(this);t.text(t.text().replace("−","-"));});
  // modal
  g.append("g").selectAll("circle").data(modalShape).join("circle").attr("cx",d=>x(d)).attr("cy",(d,i)=>y(modalFreq[i])).attr("r",8.5).attr("fill","none").attr("stroke","#000").attr("stroke-width",6);
  // legend
  const L=g.append("g").attr("transform",`translate(${opts.lx},47)`);
  L.append("rect").attr("x",0.5).attr("y",0.5).attr("width",134).attr("height",72).attr("fill","#fff").attr("stroke","#333").attr("stroke-width",1);
  L.append("circle").attr("cx",16).attr("cy",13).attr("r",1).attr("fill",BLUE);
  L.append("circle").attr("cx",16).attr("cy",37).attr("r",1).attr("fill",RED);
  L.append("circle").attr("cx",16).attr("cy",60).attr("r",8.5).attr("fill","none").attr("stroke","#000").attr("stroke-width",6);
  L.selectAll("text").data(opts.legend).join("text").attr("x",33).attr("y",(d,i)=>[21,44,67][i]).attr("font-family",font).attr("font-size",17.4).attr("fill","#222").text(d=>d);
}

panel("pa",[-5.45,5.5],[72,388.5],{yLabels:true,lx:242,legend:legendA,draw:({area,halo,straight,dots})=>{
  halo(aBlueSparse,"b",1); halo(aBlueMidU,"b",2); halo(aBlueMidL,"b",2); halo(aBlueThickU,"b",4); halo(aBlueThickL,"b",3);
  dots(aBlueDots,BLUE); area(aBlueCoreU,BLUE); area(aBlueCoreL,BLUE);
  halo(aRedSparse,"r",1); halo(aRedMid,"r",2); halo(aRedThick,"r",3); halo(aRedThickEdge,"r",3);
  dots(aRedDots,RED);
  halo(aBlueOverL,"b",2); halo(aBlueOverR,"b",1);
  area(aRedMass,RED); straight(aRedLine,RED,2.6);
}});
panel("pb",[-5.47,5.53],[389,717],{lx:568,legend:legendB,draw:({area,halo,dots})=>{
  halo(bBlueSparse,"b",1); halo(bBlueMidU,"b",2); halo(bBlueMidL,"b",2); halo(bBlueThickU,"b",4); halo(bBlueThickR,"b",3); halo(bBlueThickLL,"b",3); halo(bBlueThickLR,"b",3);
  dots(bBlueDots,BLUE); area(bBlueMass,BLUE);
  halo(bRedBaseMid,"r",3);
  dots(bRedDots,RED);
  [bRedBand30,bRedRight30,bRedRight22,bRedLeft22,bRedBandL11,bRedBandR11].forEach(a=>halo(a,"r",3));
  halo(bRedBandLL11,"r",2);
  [bRedSpike36,bRedCore30,bRedCoreR30,bRedCoreR22,bRedRidge,bRedStub,bRedStub2,bRedLower,bRedBase].forEach(a=>area(a,RED));
}});
panel("pc",[-5.44,5.5],[717.5,1041],{lx:894,legend:legendC,draw:({area,halo,curve,straight,dots})=>{
  halo(cBlueSparse,"b",1); halo(cBlueMid,"b",2); halo(cBlueThickU,"b",4); halo(cBlueThickM,"b",4); halo(cBlueThickL,"b",3); halo(cBlueStrip,"b",2);
  halo(cBlueBottomL,"b",2); halo(cBlueBottomLL,"b",4); halo(cBlueBottomR,"b",2);
  dots(cBlueDots,BLUE); dots(cRedDots,RED);
  straight(cBlueLine,BLUE,2.6); area(cBlueMass,BLUE);
  curve(cRedCurve1,RED,2.4); curve(cRedCurve2,RED,2.4); curve(cRedCurve3,RED,3); curve(cRedCurve4,RED,3); curve(cRedCurve5,RED,3.8);
  halo(cRedBaseMid,"r",3);
  area(cRedBlob,RED); straight(cRedSeg13,RED,2); area(cRedBase,RED);
}});

svg.append("text").attr("x",552.5).attr("y",30).attr("text-anchor","middle").attr("font-family",font).attr("font-weight","bold").attr("font-size",25).attr("fill","#111").text(titleText);
svg.append("text").attr("x",553).attr("y",526).attr("text-anchor","middle").attr("font-family",font).attr("font-size",24).attr("fill",INK).text(xLabel);
svg.append("text").attr("transform","translate(29,254) rotate(-90)").attr("text-anchor","middle").attr("font-family",font).attr("font-size",24.5).attr("fill",INK).text(yLabel);
svg.append("g").selectAll("text").data(captions).join("text").attr("x",(d,i)=>[192,579.5,957.5][i]).attr("y",556).attr("text-anchor","middle").attr("font-family","'Liberation Serif',serif").attr("font-size",31).attr("fill","#000").text(d=>d);
</script></body></html>
